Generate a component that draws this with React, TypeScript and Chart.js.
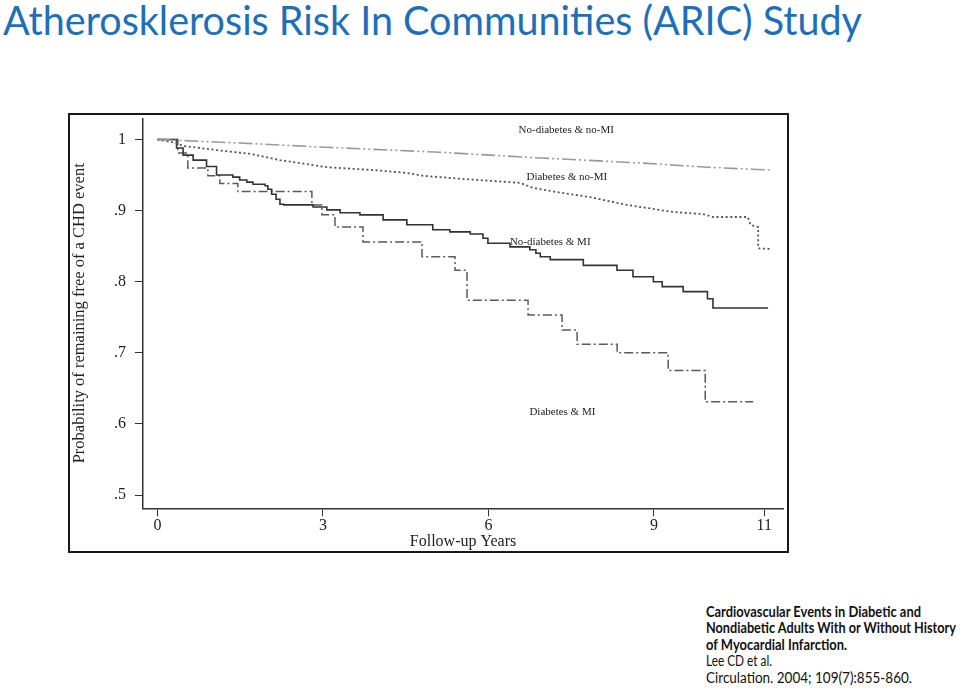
import React, { useEffect, useRef } from 'react';
import { Chart, registerables } from 'chart.js';

Chart.register(...registerables);

// ---------- text ----------
const titleText = 'Atherosklerosis Risk In Communities (ARIC) Study';
const xAxisTitle = 'Follow-up Years';
const yAxisTitle = 'Probability of remaining free of a CHD event';
const citationBold = [
  'Cardiovascular Events in Diabetic and',
  'Nondiabetic Adults With or Without History',
  'of Myocardial Infarction.',
];
const citationPlain = ['Lee CD et al.', 'Circulation. 2004; 109(7):855-860.'];

// ---------- axes ----------
const xTickValues = [0, 3, 6, 9, 11];
const yTickValues = [0.5, 0.6, 0.7, 0.8, 0.9, 1];
const yTickLabels = ['.5', '.6', '.7', '.8', '.9', '1'];

// ---------- series ----------
const seriesNames = ['No-diabetes & no-MI', 'Diabetes & no-MI', 'No-diabetes & MI', 'Diabetes & MI'];

// No-diabetes & no-MI (dash-dot-dot)
const noDmNoMiYears = [0, 1.49, 3.07, 5.12, 6.94, 8.75, 9.97, 11.11];
const noDmNoMiSurv = [1, 0.995, 0.989, 0.982, 0.974, 0.967, 0.961, 0.957];

// Diabetes & no-MI (dotted)
const dmNoMiYears = [0, 0.35, 0.46, 1.08, 1.67, 2.22, 2.82, 3.07, 3.91, 4.52, 4.81, 5.45, 6.57, 6.81, 7.24, 7.84, 8.51, 9.35, 9.89, 10.07, 10.7, 10.75, 10.89, 10.89, 11.11];
const dmNoMiSurv = [1, 0.995, 0.991, 0.985, 0.98, 0.971, 0.964, 0.961, 0.957, 0.953, 0.949, 0.945, 0.939, 0.932, 0.926, 0.919, 0.908, 0.898, 0.895, 0.891, 0.891, 0.88, 0.877, 0.847, 0.846];

// No-diabetes & MI (solid, Kaplan-Meier steps)
const noDmMiYears = [0, 0.345, 0.464, 0.646, 0.889, 1.07, 1.366, 1.49, 1.62, 1.73, 1.95, 2.0, 2.07, 2.15, 2.22, 2.29, 2.82, 3.07, 3.31, 3.67, 4.09, 4.52, 4.99, 5.3, 5.67, 5.9, 5.99, 6.39, 6.75, 6.86, 6.94, 7.12, 7.72, 8.33, 8.62, 8.99, 9.15, 9.53, 9.97, 10.07, 11.07];
const noDmMiSurv = [1, 0.988, 0.978, 0.971, 0.962, 0.95, 0.947, 0.943, 0.94, 0.937, 0.935, 0.93, 0.923, 0.916, 0.909, 0.908, 0.905, 0.901, 0.897, 0.894, 0.887, 0.88, 0.873, 0.87, 0.867, 0.861, 0.854, 0.849, 0.845, 0.84, 0.835, 0.831, 0.823, 0.816, 0.807, 0.8, 0.793, 0.786, 0.776, 0.763, 0.763];

// Diabetes & MI (dash-dot, Kaplan-Meier steps)
const dmMiYears = [0, 0.368, 0.55, 0.913, 1.13, 1.456, 2.799, 2.981, 3.217, 3.725, 4.795, 5.394, 5.612, 6.718, 7.335, 7.607, 8.333, 9.258, 9.93, 10.8];
const dmMiSurv = [1, 0.981, 0.96, 0.949, 0.938, 0.927, 0.908, 0.894, 0.877, 0.856, 0.835, 0.816, 0.774, 0.753, 0.732, 0.712, 0.7, 0.675, 0.631, 0.631];

// in-plot curve labels (data coordinates)
const labelYears = [7.41, 7.42, 7.12, 7.34];
const labelSurv = [1.0134, 0.9468, 0.8563, 0.6172];

const SERIF = '"Liberation Serif", "Times New Roman", serif';

const toPoints = (xs: number[], ys: number[]) => xs.map((x, i) => ({ x, y: ys[i] }));

const curveLabelPlugin = {
  id: 'curveLabels',
  afterDatasetsDraw(chart: any) {
    const { ctx, scales } = chart;
    ctx.save();
    ctx.font = `11px ${SERIF}`;
    ctx.fillStyle = '#222';
    ctx.textAlign = 'center';
    ctx.textBaseline = 'middle';
    seriesNames.forEach((name, i) => {
      ctx.fillText(name, scales.x.getPixelForValue(labelYears[i]), scales.y.getPixelForValue(labelSurv[i]));
    });
    ctx.restore();
  },
};

function FitText({ text, width, style }: { text: string; width: number; style: React.CSSProperties }) {
  const ref = useRef<HTMLSpanElement>(null);
  useEffect(() => {
    const fit = () => {
      const el = ref.current;
      if (!el) return;
      el.style.transform = 'none';
      const w = el.getBoundingClientRect().width;
      if (w > 0) el.style.transform = `scaleX(${width / w})`;
    };
    fit();
    if ((document as any).fonts && (document as any).fonts.ready) (document as any).fonts.ready.then(fit);
  }, [text, width]);
  return (
    <span
      ref={ref}
      style={{ display: 'inline-block', whiteSpace: 'nowrap', transformOrigin: 'left top', ...style }}
    >
      {text}
    </span>
  );
}

export default function App() {
  const canvasRef = useRef<HTMLCanvasElement>(null);

  useEffect(() => {
    if (!canvasRef.current) return;
    const chart = new Chart(canvasRef.current, {
      type: 'line',
      data: {
        datasets: [
          {
            label: seriesNames[0],
            data: toPoints(noDmNoMiYears, noDmNoMiSurv),
            borderColor: '#9a9a9a',
            borderWidth: 1.6,
            borderDash: [14, 3, 2, 3, 2, 3],
            pointRadius: 0,
            tension: 0,
            fill: false,
          },
          {
            label: seriesNames[1],
            data: toPoints(dmNoMiYears, dmNoMiSurv),
            borderColor: '#555',
            borderWidth: 1.8,
            borderDash: [2, 2.6],
            pointRadius: 0,
            tension: 0,
            fill: false,
          },
          {
            label: seriesNames[2],
            data: toPoints(noDmMiYears, noDmMiSurv),
            borderColor: '#333',
            borderWidth: 1.6,
            stepped: 'before',
            pointRadius: 0,
            fill: false,
          },
          {
            label: seriesNames[3],
            data: toPoints(dmMiYears, dmMiSurv),
            borderColor: '#5a5a5a',
            borderWidth: 1.5,
            borderDash: [9, 3, 2, 3],
            stepped: 'before',
            pointRadius: 0,
            fill: false,
          },
        ],
      },
      options: {
        responsive: false,
        animation: false,
        events: [],
        layout: { padding: { left: 0, right: 4, top: 3.3, bottom: 0 } },
        plugins: { legend: { display: false }, tooltip: { enabled: false } },
        scales: {
          x: {
            type: 'linear',
            min: -0.263,
            max: 11.34,
            afterBuildTicks: (s: any) => {
              s.ticks = xTickValues.map((v) => ({ value: v }));
            },
            afterFit: (s: any) => {
              s.height = 42.7;
              s.paddingLeft = 0;
              s.paddingRight = 0;
            },
            grid: { display: true, drawOnChartArea: false, drawTicks: true, tickLength: 8, color: '#333', lineWidth: 1 },
            border: { display: true, color: '#333', width: 1.5 },
            ticks: {
              color: '#222',
              font: { family: SERIF, size: 16 },
              padding: 0,
              autoSkip: false,
              maxRotation: 0,
              callback: (v: any) => String(v),
            },
            title: {
              display: true,
              text: xAxisTitle,
              color: '#222',
              font: { family: SERIF, size: 16 },
              padding: { top: 0, bottom: 0 },
            },
          },
          y: {
            type: 'linear',
            min: 0.4813,
            max: 1.0298,
            afterBuildTicks: (s: any) => {
              s.ticks = yTickValues.map((v) => ({ value: v }));
            },
            afterFit: (s: any) => {
              s.width = 73;
              s.paddingTop = 0;
              s.paddingBottom = 0;
            },
            grid: { display: true, drawOnChartArea: false, drawTicks: true, tickLength: 8, color: '#333', lineWidth: 1 },
            border: { display: true, color: '#333', width: 1.5 },
            ticks: {
              color: '#222',
              font: { family: SERIF, size: 16 },
              padding: 9,
              autoSkip: false,
              callback: (_v: any, i: number) => yTickLabels[i],
            },
            title: {
              display: true,
              text: yAxisTitle,
              color: '#222',
              font: { family: SERIF, size: 16.5 },
              padding: { top: 0, bottom: 0 },
            },
          },
        },
      },
      plugins: [curveLabelPlugin],
    } as any);
    return () => chart.destroy();
  }, []);

  const sans = 'Lato, "Open Sans", "Noto Sans", sans-serif';

  return (
    <div style={{ position: 'absolute', left: 0, top: 0, width: 960, height: 688, overflow: 'hidden', background: '#fff' }}>
      <div style={{ position: 'absolute', left: 3, top: -5.5, fontFamily: sans, fontSize: 41, lineHeight: 1.2, color: '#1e6fb8' }}>
        <FitText text={titleText} width={859} style={{}} />
      </div>

      <div
        style={{
          position: 'absolute',
          left: 68,
          top: 113,
          width: 721,
          height: 440,
          boxSizing: 'border-box',
          border: '2px solid #1a1a1a',
          background: '#fff',
        }}
      />
      <canvas
        ref={canvasRef}
        width={717}
        height={436}
        style={{ position: 'absolute', left: 70, top: 115, width: 717, height: 436 }}
      />

      <div style={{ position: 'absolute', left: 706, top: 602.5, fontFamily: sans, fontSize: 15.5, lineHeight: '16.5px', color: '#111' }}>
        {citationBold.map((t, i) => (
          <div key={'b' + i} style={{ height: 16.5, fontWeight: 700 }}>
            <FitText text={t} width={[215, 250, 141][i]} style={{}} />
          </div>
        ))}
        {citationPlain.map((t, i) => (
          <div key={'p' + i} style={{ height: 16.5 }}>
            <FitText text={t} width={[66, 206][i]} style={{}} />
          </div>
        ))}
      </div>
    </div>
  );
}
